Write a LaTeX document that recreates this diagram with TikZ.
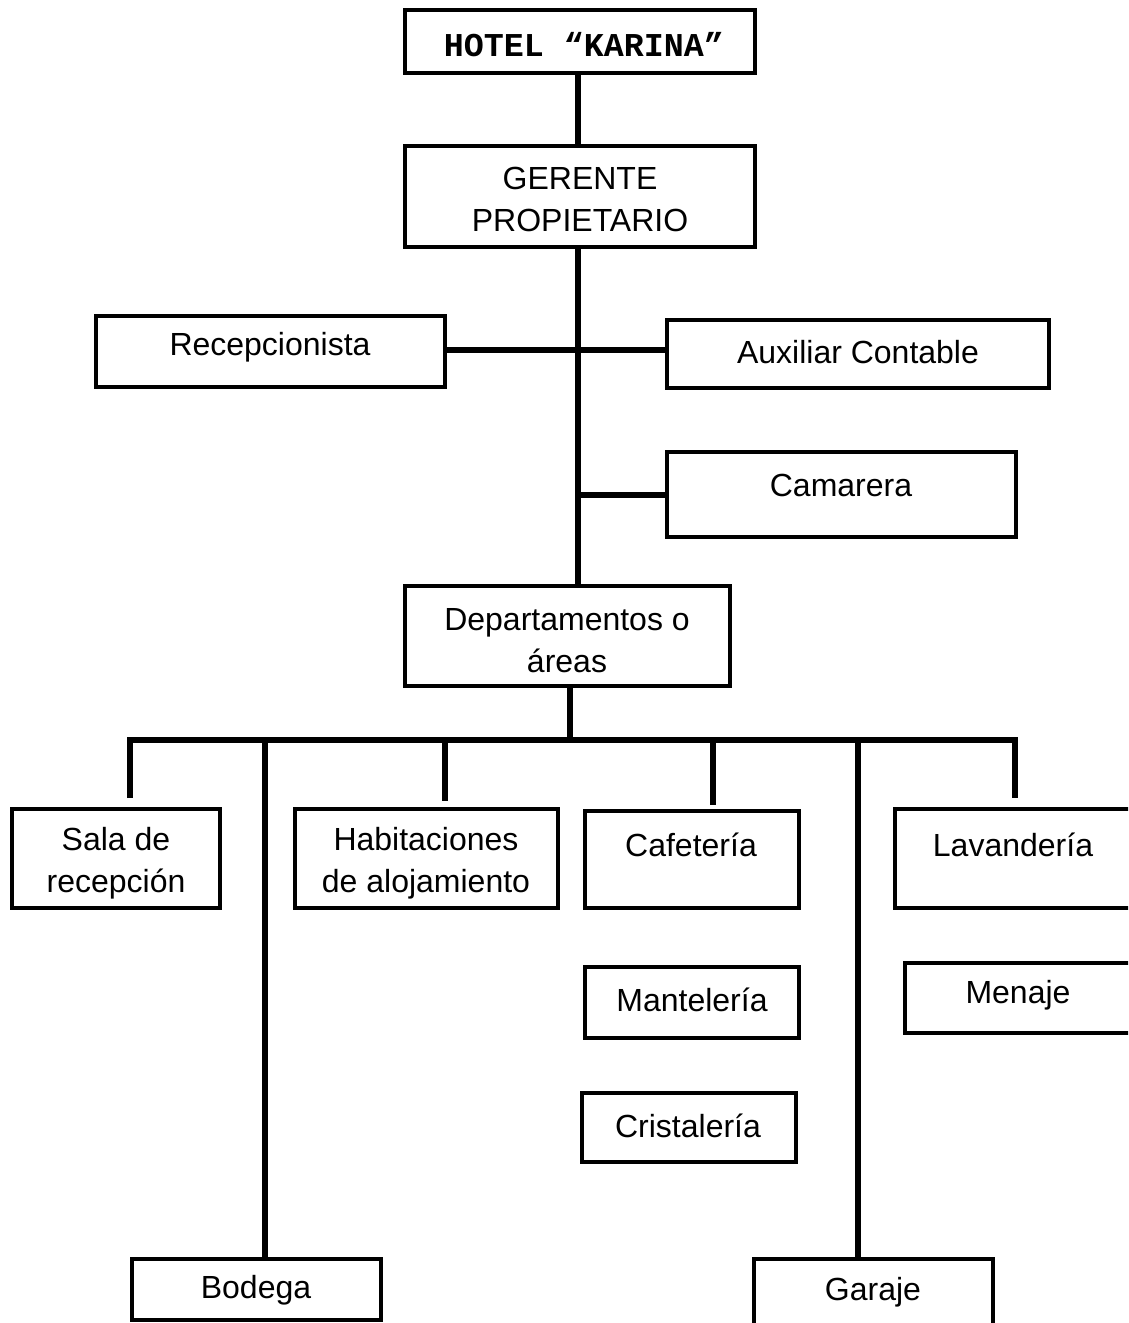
\documentclass[tikz,border=0pt]{standalone}
\usepackage{fontspec}
\setmainfont{Liberation Sans}
\newfontfamily\titlefont{Liberation Mono}
\begin{document}
\begin{tikzpicture}[x=0.75pt,y=-0.75pt,
  box/.style={draw, line width=3.6pt, rectangle, inner sep=0pt},
  txt/.style={font=\fontsize{24}{31.5}\selectfont, align=center, inner sep=0pt},
  conn/.style={line width=3.8pt, line join=miter}]
\useasboundingbox (0,0) rectangle (1128,1323);
\clip (0,0) rectangle (1128,1323);
\newcommand\bx[5]{\node[box, minimum width={(#4-#2)*0.75pt}, minimum height={(#5-#3)*0.75pt}] (#1) at ({(#2+#4)/2},{(#3+#5)/2}) {};}
% boxes
\bx{hotel}{405}{10}{755}{73}
\bx{gerente}{405}{146}{755}{247}
\bx{recep}{96}{316}{445}{387}
\bx{aux}{667}{320}{1049}{388}
\bx{cama}{667}{452}{1016}{537}
\bx{dep}{405}{586}{730}{686}
\bx{sala}{12}{809}{220}{908}
\bx{hab}{295}{809}{558}{908}
\bx{cafe}{585}{811}{799}{908}
\bx{lava}{895}{809}{1160}{908}
\bx{mant}{585}{967}{799}{1038}
\bx{mena}{905}{963}{1160}{1033}
\bx{cris}{582}{1093}{796}{1162}
\bx{bod}{132}{1259}{381}{1320}
\bx{gar}{754}{1259}{993}{1360}
% texts
\node[inner sep=0pt, font=\titlefont\bfseries\fontsize{25}{28}\selectfont] (thotel) at (584,45) {HOTEL “KARINA”};
\node[txt] (tger) at (580,199) {GERENTE\\PROPIETARIO};
\node[txt] (trec) at (270,347) {Recepcionista};
\node[txt] (taux) at (858,352) {Auxiliar Contable};
\node[txt] (tcam) at (841,485) {Camarera};
\node[txt] (tdep) at (567,641) {Departamentos o\\áreas};
\node[txt] (tsala) at (116,863) {Sala de\\recepción};
\node[txt] (thab) at (426,863) {Habitaciones\\de alojamiento};
\node[txt] (tcafe) at (691,845) {Cafetería};
\node[txt] (tlava) at (1013,845) {Lavandería};
\node[txt] (tmant) at (692,1000) {Mantelería};
\node[txt] (tmena) at (1018,995) {Menaje};
\node[txt] (tcris) at (688,1126) {Cristalería};
\node[txt] (tbod) at (256,1290) {Bodega};
\node[txt] (tgar) at (873,1292) {Garaje};
% connectors
\coordinate (j1) at (578,350);
\coordinate (j2) at (578,495);
\coordinate (j3) at (578,586);
\coordinate (bar) at (570,740);
\coordinate (barL) at (130,740);
\coordinate (barR) at (1015,740);
\draw[conn] (hotel.south -| j1) -- (gerente.north -| j1);
\draw[conn] (gerente.south -| j1) -- (j3);
\draw[conn] (recep.east |- j1) -- (aux.west |- j1);
\draw[conn] (j2) -- (cama.west |- j2);
\draw[conn] (dep.south -| bar) -- (bar);
\draw[conn] (130,798) -- (barL) -- (barR) -- (1015,798);
\draw[conn] (265,740) -- (bod.north -| 265,0);
\draw[conn] (445,740) -- (445,801);
\draw[conn] (713,740) -- (713,805);
\draw[conn] (858,740) -- (gar.north -| 858,0);
\end{tikzpicture}
\end{document}
